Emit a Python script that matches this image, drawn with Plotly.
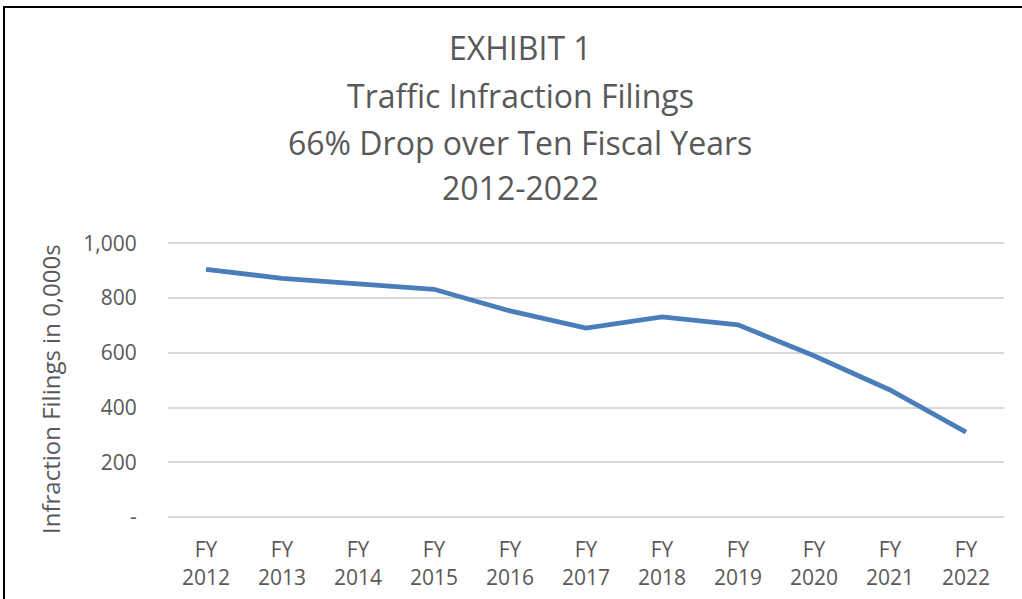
import plotly.graph_objects as go

categories = ["FY<br>2012", "FY<br>2013", "FY<br>2014", "FY<br>2015", "FY<br>2016", "FY<br>2017",
              "FY<br>2018", "FY<br>2019", "FY<br>2020", "FY<br>2021", "FY<br>2022"]
filings = [905, 872, 852, 832, 753, 690, 731, 702, 589, 464, 310]
y_tickvals = [0, 200, 400, 600, 800, 1000]
y_ticktext = ["-", "200", "400", "600", "800", "1,000"]
title_lines = ["EXHIBIT 1", "Traffic Infraction Filings", "66% Drop over Ten Fiscal Years", "2012-2022"]
y_title = "Infraction Filings in 0,000s"

W, H = 1022, 599
L, R, T, B = 168, 18, 240, 82
pw, ph = W - L - R, H - T - B
FONT = "Open Sans"
GREY = "#595959"

fig = go.Figure()
fig.add_trace(go.Scatter(x=list(range(len(categories))), y=filings, mode="lines",
                         line=dict(color="#4a7ebb", width=4.8), hoverinfo="y"))

def py(pix):
    return (H - B - pix) / ph

def px(pix):
    return (pix - L) / pw

title_y = [48, 96, 142, 187]
annotations = []
for txt, yy in zip(title_lines, title_y):
    annotations.append(dict(text=txt, x=px(520), y=py(yy), xref="paper", yref="paper",
                            showarrow=False, xanchor="center", yanchor="middle",
                            font=dict(family=FONT, size=32, color=GREY)))
annotations.append(dict(text=y_title, x=px(50), y=py(389), xref="paper", yref="paper",
                        showarrow=False, xanchor="center", yanchor="middle", textangle=-90,
                        font=dict(family=FONT, size=24, color=GREY)))

fig.update_layout(
    width=W, height=H,
    margin=dict(l=L, r=R, t=T, b=B),
    paper_bgcolor="white", plot_bgcolor="white",
    showlegend=False,
    annotations=annotations,
    xaxis=dict(range=[-0.5, len(categories) - 0.5], tickvals=list(range(len(categories))),
               ticktext=categories, showgrid=False, zeroline=False, showline=False,
               automargin=False,
               ticks="outside", ticklen=14, tickcolor="rgba(0,0,0,0)",
               tickfont=dict(family=FONT, size=21, color=GREY)),
    yaxis=dict(range=[0, 1012], tickvals=y_tickvals, ticktext=y_ticktext,
               showgrid=True, gridcolor="#d9d9d9", gridwidth=1.5,
               zeroline=True, zerolinecolor="#d9d9d9", zerolinewidth=1.5,
               automargin=False,
               ticks="outside", ticklen=26, tickcolor="rgba(0,0,0,0)",
               tickfont=dict(family=FONT, size=21, color=GREY)),
    shapes=[dict(type="rect", xref="paper", yref="paper",
                 x0=px(4), x1=px(1040), y0=py(620), y1=py(7),
                 line=dict(color="black", width=2), fillcolor="rgba(0,0,0,0)", layer="below")],
)

fig.write_html("out.html", config={"displayModeBar": False})
with open("out.html", "r", encoding="utf-8") as f:
    html = f.read()
html = html.replace("<head>", "<head><style>html,body{margin:0;padding:0;}</style>", 1)
with open("out.html", "w", encoding="utf-8") as f:
    f.write(html)
